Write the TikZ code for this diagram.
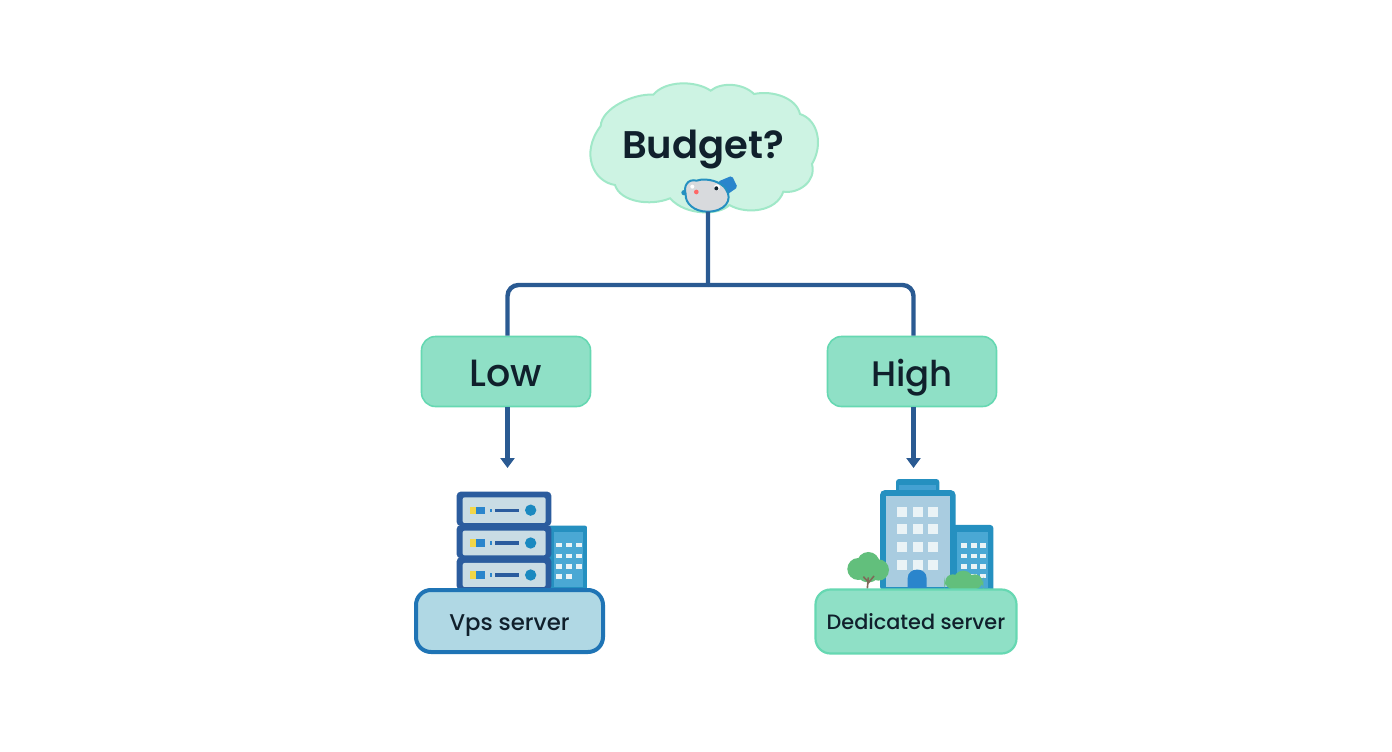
\documentclass[tikz,border=0pt]{standalone}
\usepackage{fontspec}
\setmainfont{Poppins}
\newfontfamily\medfont{Poppins Medium}
\newfontfamily\strongfont{Poppins SemiBold}
\usetikzlibrary{arrows.meta}
\definecolor{inkc}{HTML}{10202C}
\definecolor{linkc}{HTML}{2A5A92}
\definecolor{cloudf}{HTML}{CDF3E3}
\definecolor{clouds}{HTML}{A0E8C8}
\definecolor{mintf}{HTML}{8FE0C6}
\definecolor{mints}{HTML}{66D8B2}
\definecolor{skyf}{HTML}{B0D8E4}
\definecolor{skys}{HTML}{1F74B5}
\definecolor{navyc}{HTML}{2B5C9E}
\definecolor{panelc}{HTML}{C9DCE4}
\definecolor{towerc}{HTML}{2590C0}
\definecolor{towerl}{HTML}{A9CCE0}
\definecolor{annexc}{HTML}{4AA8D4}
\definecolor{bluec}{HTML}{2A85CC}
\definecolor{leafc}{HTML}{62BF7C}
\definecolor{trunkc}{HTML}{7E6A58}
\definecolor{yelc}{HTML}{F2D648}
\definecolor{winc}{HTML}{EAF3F6}
\definecolor{headc}{HTML}{D8DADD}
\tikzset{
  link/.style={draw=linkc,line width=4.4pt},
  choice/.style={draw=mints,fill=mintf,line width=1.6pt,rounded corners=14pt,minimum width=169pt,minimum height=70pt,inner sep=0pt,text=inkc,text height=29pt,text depth=0pt},
  result/.style={rounded corners=15pt,inner sep=0pt,text=inkc,text depth=0pt},
  win/.style={fill=winc,draw=none},
  rack/.style={fill=navyc,draw=none,rounded corners=4pt},
  panel/.style={fill=panelc,draw=none,rounded corners=2pt}
}
\begin{document}
\begin{tikzpicture}[x=1pt,y=-1pt]
\useasboundingbox (0,0) rectangle (1392,752);
\fill[white] (0,0) rectangle (1392,752);
% cloud (zoom coordinates)
\begin{scope}[shift={(570,70)},x=0.3333pt,y=-0.3333pt]
\draw[fill=cloudf,draw=clouds,line width=2pt]
 (92,168) .. controls (95,115) and (190,70) .. (250,74)
 .. controls (285,32) and (375,30) .. (422,62)
 .. controls (455,35) and (520,40) .. (552,72)
 .. controls (610,60) and (680,85) .. (690,132)
 .. controls (745,150) and (760,225) .. (726,282)
 .. controls (740,335) and (685,372) .. (640,365)
 .. controls (620,425) and (530,435) .. (478,405)
 .. controls (450,435) and (350,440) .. (300,385)
 .. controls (240,410) and (150,395) .. (135,345)
 .. controls (70,335) and (30,250) .. (92,168) -- cycle;
\coordinate (cloudfoot) at (414,425);
% mascot
\draw[fill=bluec,draw=bluec,line join=round,line width=4pt] (452,338) -- (483,325) -- (495,350) -- (472,366) -- cycle;
\fill[towerc] (342,368) circle (8);
\draw[fill=headc,draw=towerc,line width=2pt]
 (412,425) .. controls (372,425) and (345,400) .. (347,372)
 .. controls (340,350) and (352,325) .. (380,332)
 .. controls (410,322) and (455,335) .. (468,358)
 .. controls (490,390) and (465,425) .. (412,425) -- cycle;
\fill[white] (367,350) circle (6);
\fill[red!60!white] (379,366) circle (7);
\fill[white] (441,352) circle (9);
\fill[inkc] (439,355) circle (6);
\end{scope}
\node[text=inkc,font=\strongfont\fontsize{38.5}{40}\selectfont,inner sep=0pt,anchor=base] (budget) at (703,158) {Budget?};
% choices
\node[choice,font=\medfont\fontsize{38}{40}\selectfont] (low) at (506,371.5) {Low};
\node[choice,font=\medfont\fontsize{35.5}{40}\selectfont] (high) at (912,371.5) {High};
\coordinate (fork) at (708,285);
\coordinate (lowtip) at (507.5,468);
\coordinate (hightip) at (913.5,468);
\draw[link] (cloudfoot) -- (fork);
\draw[link,rounded corners=11pt] (fork) -- (fork -| lowtip) -- (lowtip |- low.north);
\draw[link,rounded corners=11pt] (fork) -- (fork -| hightip) -- (hightip |- high.north);
\draw[link,-{Triangle[length=10pt,width=14pt]}] (lowtip |- low.south) -- (lowtip);
\draw[link,-{Triangle[length=10pt,width=14pt]}] (hightip |- high.south) -- (hightip);
% server stack (zoom coordinates)
\begin{scope}[shift={(400,470)},x=0.3333pt,y=-0.3333pt]
\fill[towerc,rounded corners=2pt] (440,167) rectangle (561,360);
\fill[annexc] (462,185) rectangle (548,350);
\foreach \y/\n in {225/3,258/3,289/3,319/2}{
 \foreach \i in {1,...,\n}{\fill[win] ({438+\i*30},\y-7) rectangle ({456+\i*30},\y+7);}}
\foreach \t/\b in {65/168,165/265,262/360}{
 \fill[rack] (170,\t) rectangle (454,\b);
 \fill[panel] (188,\t+17) rectangle (437,\b-9);
 \pgfmathsetmacro{\m}{(\t+\b+8)/2}
 \fill[yelc] (211,\m-11) rectangle (228,\m+11);
 \fill[bluec] (228,\m-11) rectangle (255,\m+11);
 \fill[bluec] (270,\m-5) rectangle (277,\m+5);
 \fill[navyc] (285,\m-5) rectangle (357,\m+5);
 \fill[skys!85!cyan] (392,\m) circle (17);
}
\end{scope}
\node[result,draw=skys,fill=skyf,line width=4pt,minimum width=187pt,minimum height=62pt,text height=18pt,font=\medfont\fontsize{22.8}{28}\selectfont] (vps) at (509.5,621) {Vps server};
% building (zoom coordinates)
\begin{scope}[shift={(800,470)},x=0.3333pt,y=-0.3333pt]
\fill[towerc,rounded corners=3pt] (288,27) rectangle (418,70);
\fill[annexc!80!bluec] (298,45) rectangle (408,60);
\fill[towerc,rounded corners=3pt] (455,165) rectangle (580,365);
\fill[annexc] (470,185) rectangle (565,355);
\foreach \y in {226,258,290,318}{
 \foreach \x in {492,521,550}{\fill[winc] (\x-9,\y-7) rectangle (\x+9,\y+7);}}
\fill[towerc,rounded corners=5pt] (240,60) rectangle (467,365);
\fill[towerl] (258,78) rectangle (450,352);
\foreach \y in {125,178,232,284}{
 \foreach \x in {307,353,399}{\fill[winc] (\x-15,\y-15) rectangle (\x+15,\y+15);}}
\fill[bluec] (323,360) -- (323,325) .. controls (323,290) and (380,290) .. (380,325) -- (380,360) -- cycle;
% tree and bush
\fill[leafc] (205,295) circle (42) (175,297) circle (33) (205,280) circle (34) (235,300) circle (32) (200,310) circle (24);
\draw[trunkc,line width=1.6pt] (202,356) -- (205,322) (204,340) -- (222,318) (204,335) -- (190,320);
\fill[leafc,rounded corners=14pt] (433,318) rectangle (550,362);
\fill[leafc] (490,332) circle (30) (458,335) circle (22) (525,335) circle (22);
\end{scope}
\node[result,draw=mints,fill=mintf,line width=2.2pt,minimum width=201pt,minimum height=64pt,text height=16pt,font=\medfont\fontsize{20.8}{26}\selectfont] (ded) at (916,621.5) {Dedicated server};
\end{tikzpicture}
\end{document}
